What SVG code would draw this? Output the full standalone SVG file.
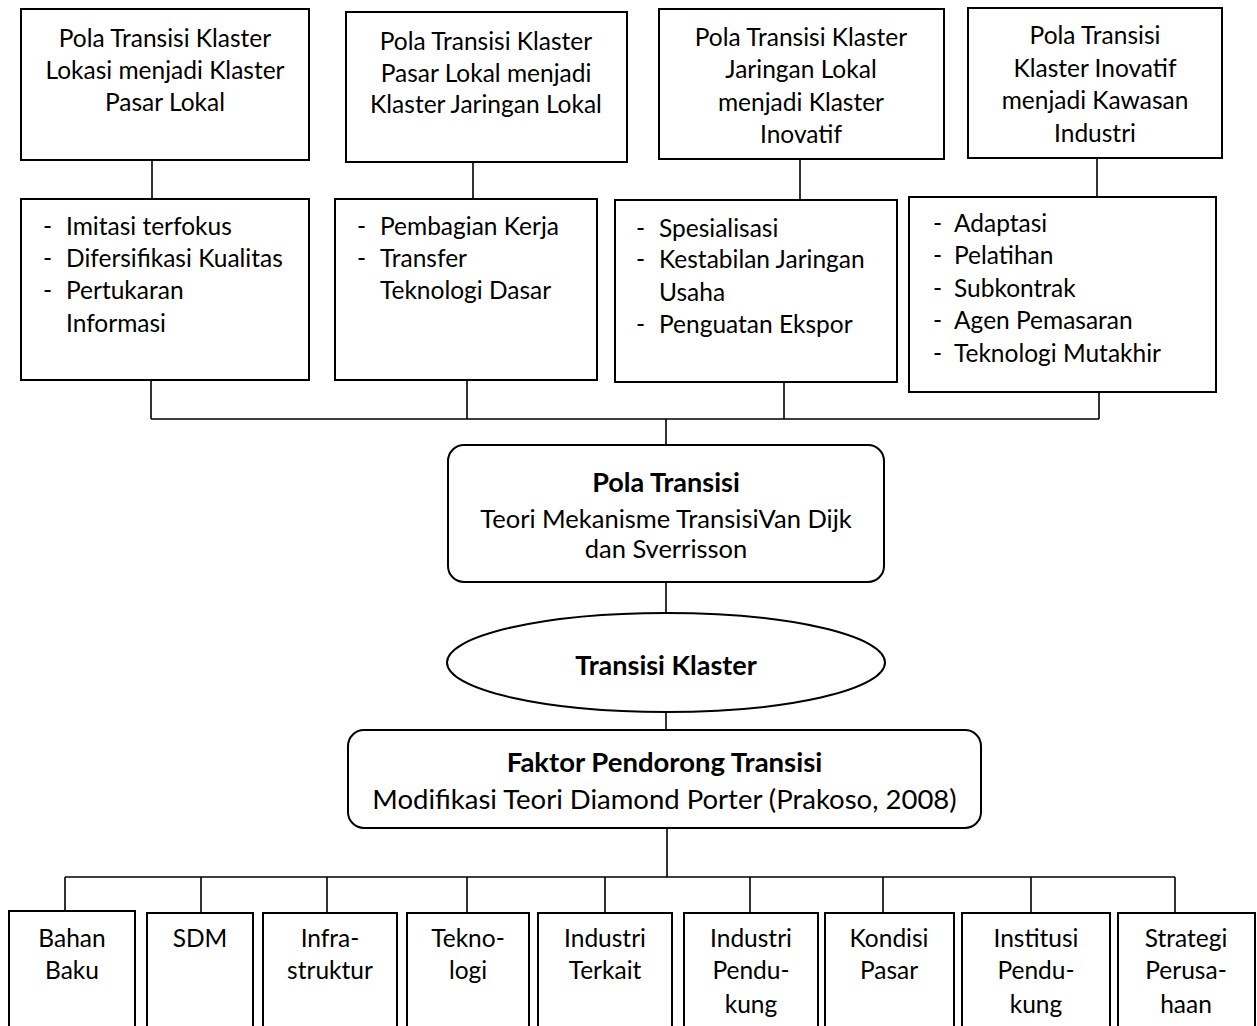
<svg xmlns="http://www.w3.org/2000/svg" width="1257" height="1026" viewBox="0 0 1257 1026">
<style>
.b{fill:#fff;stroke:#000;stroke-width:2}
.c{fill:none;stroke:#000;stroke-width:1.6}
text{font-family:Lato,"Liberation Sans",sans-serif;font-size:24.5px;fill:#000}
.m{text-anchor:middle}
.bo{font-weight:bold}
.p{font-size:25.5px}
.pb{font-size:27px;font-weight:bold}
.f{font-size:27.5px}
</style>
<rect width="1257" height="1026" fill="#fff"/>
<g id="connectors">
<path class="c" d="M152 160V199M473 162V199M800 159V200M1097 158V197"/>
<path class="c" d="M151 380V419M467 380V419M784 382V419M1099 392V419M151 419H1099M666 419V445"/>
<path class="c" d="M666 582V613M666 712V730M667 828V877M65 877H1175"/>
<path class="c" d="M65 877V911M201 877V913M327 877V913M467 877V913M605 877V913M750 877V913M883 877V913M1031 877V913M1175 877V913"/>
</g>
<g id="top1"><rect class="b" x="21" y="9" width="288" height="151"/>
<text class="m" x="165" y="47">Pola Transisi Klaster</text><text class="m" x="165" y="79">Lokasi menjadi Klaster</text><text class="m" x="165" y="111">Pasar Lokal</text></g>
<g id="top2"><rect class="b" x="346" y="12" width="281" height="150"/>
<text class="m" x="486" y="50">Pola Transisi Klaster</text><text class="m" x="486" y="82">Pasar Lokal menjadi</text><text class="m" x="486" y="113">Klaster Jaringan Lokal</text></g>
<g id="top3"><rect class="b" x="659" y="9" width="285" height="150"/>
<text class="m" x="801" y="46">Pola Transisi Klaster</text><text class="m" x="801" y="78">Jaringan Lokal</text><text class="m" x="801" y="111">menjadi Klaster</text><text class="m" x="801" y="143">Inovatif</text></g>
<g id="top4"><rect class="b" x="968" y="8" width="254" height="150"/>
<text class="m" x="1095" y="44">Pola Transisi</text><text class="m" x="1095" y="77">Klaster Inovatif</text><text class="m" x="1095" y="109">menjadi Kawasan</text><text class="m" x="1095" y="142">Industri</text></g>
<g id="list1"><rect class="b" x="21" y="199" width="288" height="181"/>
<text x="43" y="235">-</text><text x="66" y="235">Imitasi terfokus</text>
<text x="43" y="267">-</text><text x="66" y="267">Difersifikasi Kualitas</text>
<text x="43" y="299">-</text><text x="66" y="299">Pertukaran</text>
<text x="66" y="332">Informasi</text></g>
<g id="list2"><rect class="b" x="335" y="199" width="262" height="181"/>
<text x="357" y="235">-</text><text x="380" y="235">Pembagian Kerja</text>
<text x="357" y="267">-</text><text x="380" y="267">Transfer</text>
<text x="380" y="299">Teknologi Dasar</text></g>
<g id="list3"><rect class="b" x="615" y="200" width="282" height="182"/>
<text x="636" y="237">-</text><text x="659" y="237">Spesialisasi</text>
<text x="636" y="268">-</text><text x="659" y="268">Kestabilan Jaringan</text>
<text x="659" y="301">Usaha</text>
<text x="636" y="333">-</text><text x="659" y="333">Penguatan Ekspor</text></g>
<g id="list4"><rect class="b" x="909" y="197" width="307" height="195"/>
<text x="933" y="232">-</text><text x="954" y="232">Adaptasi</text>
<text x="933" y="264">-</text><text x="954" y="264">Pelatihan</text>
<text x="933" y="297">-</text><text x="954" y="297">Subkontrak</text>
<text x="933" y="329">-</text><text x="954" y="329">Agen Pemasaran</text>
<text x="933" y="362">-</text><text x="954" y="362">Teknologi Mutakhir</text></g>
<g id="pola"><rect class="b" x="448" y="445" width="436" height="137" rx="16"/>
<text class="m pb" x="666" y="492">Pola Transisi</text>
<text class="m p" x="666" y="528">Teori Mekanisme TransisiVan Dijk</text>
<text class="m p" x="666" y="558">dan Sverrisson</text></g>
<g id="transisi"><ellipse class="b" cx="666" cy="662.5" rx="219" ry="49.5"/>
<text class="m pb" x="666" y="675">Transisi Klaster</text></g>
<g id="faktor"><rect class="b" x="348" y="730" width="633" height="98" rx="16"/>
<text class="m f bo" x="664.5" y="772">Faktor Pendorong Transisi</text>
<text class="m f" x="664.5" y="809">Modifikasi Teori Diamond Porter (Prakoso, 2008)</text></g>
<g id="f1"><rect class="b" x="9" y="911" width="126" height="130"/><text class="m" x="72" y="947">Bahan</text><text class="m" x="72" y="979">Baku</text></g>
<g id="f2"><rect class="b" x="147" y="913" width="106" height="130"/><text class="m" x="200" y="947">SDM</text></g>
<g id="f3"><rect class="b" x="263" y="913" width="134" height="130"/><text class="m" x="330" y="947">Infra-</text><text class="m" x="330" y="979">struktur</text></g>
<g id="f4"><rect class="b" x="407" y="913" width="122" height="130"/><text class="m" x="468" y="947">Tekno-</text><text class="m" x="468" y="979">logi</text></g>
<g id="f5"><rect class="b" x="538" y="913" width="134" height="130"/><text class="m" x="605" y="947">Industri</text><text class="m" x="605" y="979">Terkait</text></g>
<g id="f6"><rect class="b" x="684" y="913" width="134" height="130"/><text class="m" x="751" y="947">Industri</text><text class="m" x="751" y="979">Pendu-</text><text class="m" x="751" y="1013">kung</text></g>
<g id="f7"><rect class="b" x="825" y="913" width="129" height="130"/><text class="m" x="889" y="947">Kondisi</text><text class="m" x="889" y="979">Pasar</text></g>
<g id="f8"><rect class="b" x="962" y="913" width="148" height="130"/><text class="m" x="1036" y="947">Institusi</text><text class="m" x="1036" y="979">Pendu-</text><text class="m" x="1036" y="1013">kung</text></g>
<g id="f9"><rect class="b" x="1118" y="913" width="137" height="130"/><text class="m" x="1186" y="947">Strategi</text><text class="m" x="1186" y="979">Perusa-</text><text class="m" x="1186" y="1013">haan</text></g>
</svg>
